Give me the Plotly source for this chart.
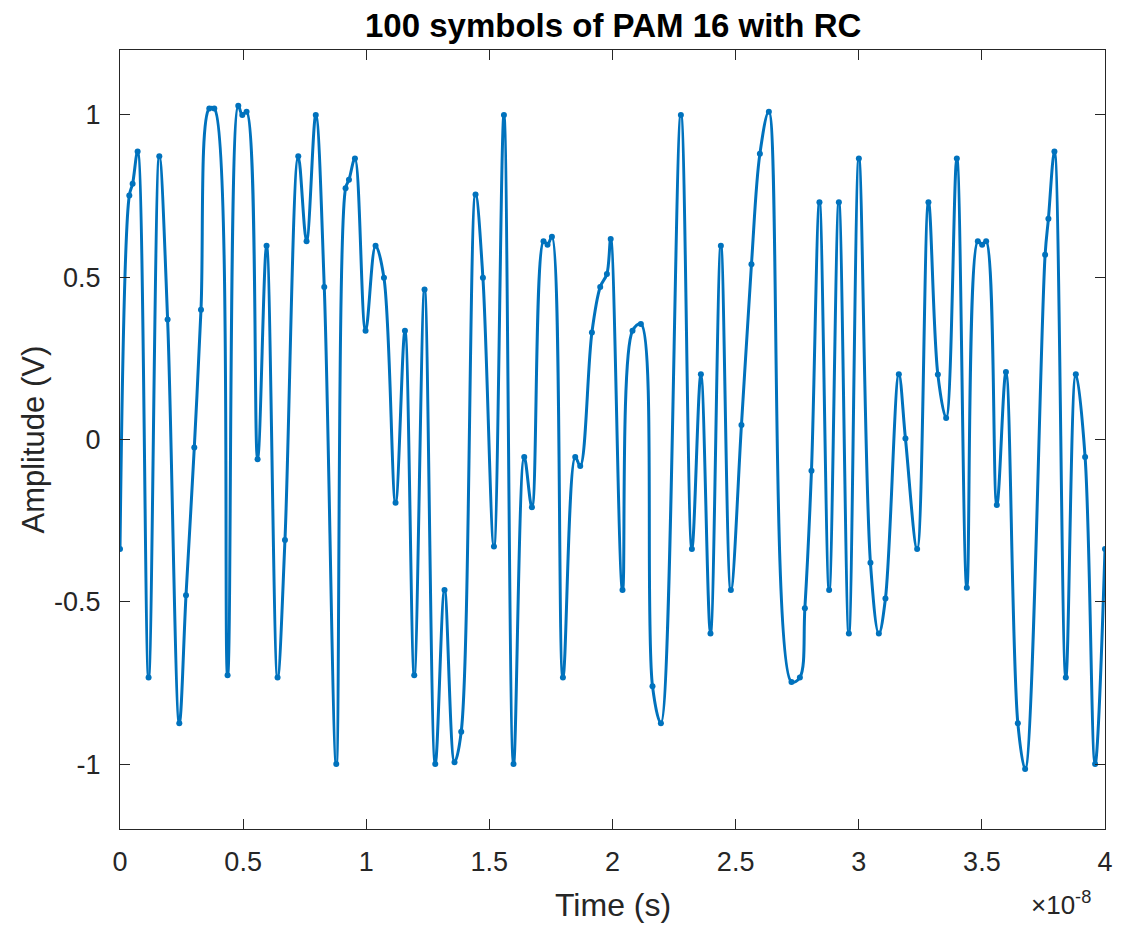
import plotly.graph_objects as go

# Waveform samples (time in ns, amplitude in V)
time_ns = [0.000, 0.378, 0.512, 0.715, 1.161, 1.596, 1.933, 2.408, 2.680, 3.017,
           3.289, 3.626, 3.829, 4.369, 4.803, 4.966, 5.140, 5.587, 5.952, 6.399,
           6.699, 7.239, 7.576, 7.950, 8.295, 8.782, 9.160, 9.298, 9.541, 9.972,
           10.378, 10.719, 11.190, 11.571, 11.949, 12.367, 12.802, 13.179, 13.585, 13.857,
           14.438, 14.738, 15.185, 15.591, 15.981, 16.415, 16.728, 17.199, 17.361, 17.540,
           17.986, 18.486, 18.689, 19.164, 19.501, 19.773, 19.927, 20.406, 20.812, 21.153,
           21.624, 21.965, 22.777, 23.224, 23.589, 23.979, 24.401, 24.807, 25.237, 25.643,
           25.985, 26.350, 27.268, 27.609, 27.812, 28.080, 28.404, 28.798, 29.192, 29.598,
           30.004, 30.475, 30.816, 31.084, 31.628, 31.896, 32.371, 32.830, 33.212, 33.549,
           33.983, 34.389, 34.836, 35.010, 35.173, 35.607, 35.977, 36.460, 36.756, 37.568,
           37.702, 37.946, 38.409, 38.815, 39.192, 39.598, 40.000]
amplitude = [-0.337, 0.752, 0.788, 0.887, -0.733, 0.873, 0.37, -0.874, -0.48, -0.025,
             0.40, 1.02, 1.02, -0.726, 1.028, 1.0, 1.01, -0.061, 0.597, -0.733,
             -0.31, 0.873, 0.611, 1.0, 0.47, -1.0, 0.774, 0.80, 0.866, 0.335,
             0.597, 0.498, -0.195, 0.335, -0.726, 0.462, -1.0, -0.464, -0.994, -0.90,
             0.755, 0.498, -0.33, 1.0, -1.0, -0.054, -0.209, 0.611, 0.60, 0.625,
             -0.733, -0.054, -0.082, 0.33, 0.47, 0.51, 0.618, -0.464, 0.335, 0.356,
             -0.76, -0.874, 1.0, -0.337, 0.201, -0.598, 0.597, -0.464, 0.045, 0.54,
             0.88, 1.01, -0.747, -0.733, -0.52, -0.096, 0.731, -0.464, 0.731, -0.598,
             0.866, -0.38, -0.598, -0.49, 0.201, 0.003, -0.337, 0.731, 0.2, 0.066,
             0.866, -0.457, 0.611, 0.60, 0.611, -0.202, 0.208, -0.874, -1.015, 0.569,
             0.68, 0.887, -0.733, 0.201, -0.054, -1.0, -0.337]

x_tick_vals = [0, 0.5e-8, 1e-8, 1.5e-8, 2e-8, 2.5e-8, 3e-8, 3.5e-8, 4e-8]
x_tick_text = ["0", "0.5", "1", "1.5", "2", "2.5", "3", "3.5", "4"]
y_tick_vals = [-1, -0.5, 0, 0.5, 1]
y_tick_text = ["-1", "-0.5", "0", "0.5", "1"]

time_s = [t * 1e-9 for t in time_ns]

FONT = "Liberation Sans, Arial, sans-serif"
AX = "#262626"
BLUE = "#0072BD"

fig = go.Figure()
fig.add_trace(go.Scatter(
    x=time_s, y=amplitude, mode="lines+markers",
    line=dict(color=BLUE, width=3, shape="spline", smoothing=1.0),
    marker=dict(color=BLUE, size=6),
    showlegend=False, hoverinfo="skip",
))

axis_common = dict(showline=True, linecolor=AX, linewidth=1, mirror="ticks",
                   ticks="inside", ticklen=10, tickcolor=AX, showgrid=False,
                   zeroline=False, automargin=False,
                   tickfont=dict(family=FONT, size=27, color=AX))

fig.update_xaxes(range=[0, 4e-8], tickvals=x_tick_vals, ticktext=x_tick_text,
                 ticklabelstandoff=9, **axis_common)
fig.update_yaxes(range=[-1.2, 1.2], tickvals=y_tick_vals, ticktext=y_tick_text,
                 ticklabelstandoff=13, **axis_common)

# page has an 8px body margin; size the figure so the plot area lands where the reference has it
fig.update_layout(
    width=1105, height=915,
    margin=dict(l=112, r=8, t=42, b=94),
    paper_bgcolor="white", plot_bgcolor="white",
    font=dict(family=FONT, color=AX),
    annotations=[
        dict(text="<b>100 symbols of PAM 16 with RC</b>", xref="paper", yref="paper",
             x=0.5, y=1.032, xanchor="center", yanchor="middle", showarrow=False,
             font=dict(family=FONT, size=33, color="black")),
        dict(text="Time (s)", xref="paper", yref="paper", x=0.5, y=-0.0976,
             xanchor="center", yanchor="middle", showarrow=False,
             font=dict(family=FONT, size=32, color=AX)),
        dict(text="Amplitude (V)", xref="paper", yref="paper", x=-0.0883, y=0.5,
             xanchor="center", yanchor="middle", textangle=-90, showarrow=False,
             font=dict(family=FONT, size=31, color=AX)),
        dict(text="×10<sup>-8</sup>", xref="paper", yref="paper", x=0.988, y=-0.096,
             xanchor="right", yanchor="middle", showarrow=False,
             font=dict(family=FONT, size=26, color=AX)),
    ],
)

fig.write_html("out.html")
